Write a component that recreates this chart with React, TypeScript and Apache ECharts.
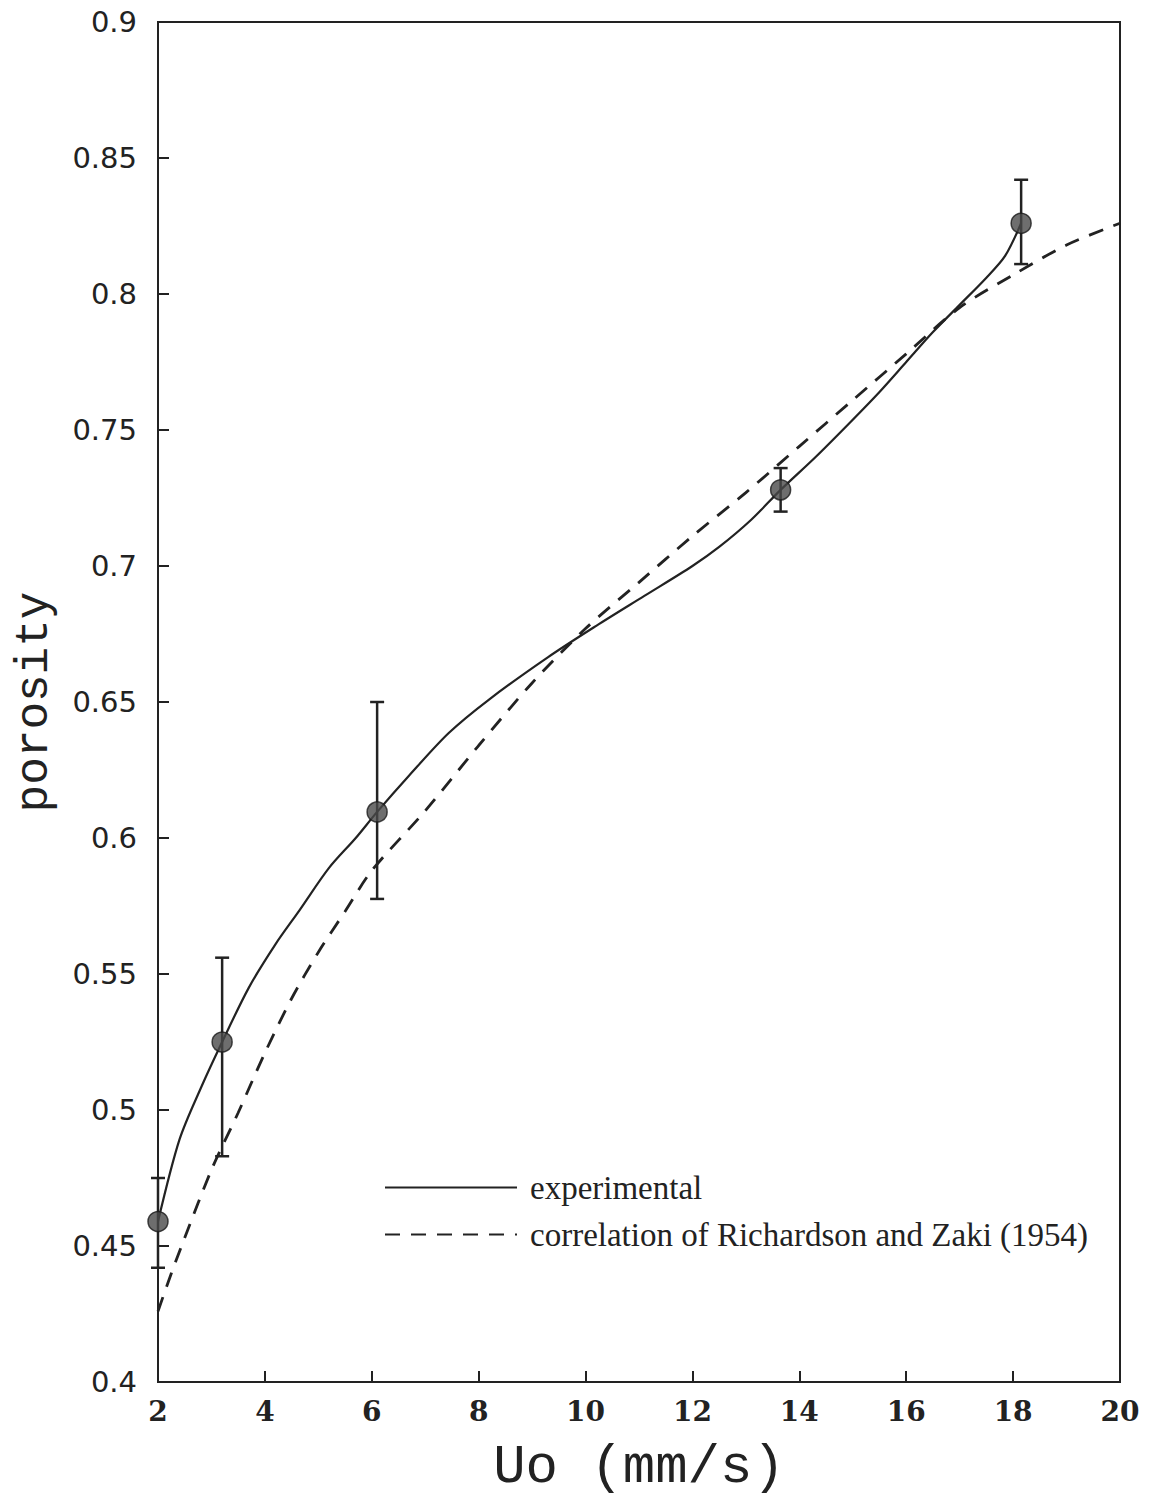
import React, { useEffect, useRef } from "react";
import * as echarts from "echarts";

// Measured data points (Uo in mm/s, porosity) with error bars
const pointX = [2.0, 3.2, 6.1, 13.65, 18.15];
const pointY = [0.459, 0.525, 0.6096, 0.728, 0.826];
const errLow = [0.442, 0.483, 0.5776, 0.72, 0.811];
const errHigh = [0.475, 0.556, 0.65, 0.736, 0.842];

// Experimental curve (solid)
const expX = [2.0, 2.4, 2.8, 3.2, 3.7, 4.2, 4.65, 5.2, 5.7, 6.1, 6.7, 7.44, 8.2, 9.3, 10.2, 11.1, 12.0, 12.5, 13.1, 13.65, 14.3, 14.94, 15.5, 16.0, 16.5, 17.0, 17.5, 17.85, 18.15];
const expY = [0.459, 0.489, 0.508, 0.525, 0.545, 0.561, 0.5735, 0.589, 0.6, 0.6096, 0.623, 0.6386, 0.651, 0.6665, 0.678, 0.689, 0.7, 0.707, 0.717, 0.728, 0.74, 0.7526, 0.764, 0.775, 0.786, 0.796, 0.806, 0.814, 0.826];

// Richardson & Zaki correlation (dashed)
const rzX = [2, 2.25, 2.5, 3, 3.5, 4, 4.5, 5, 5.5, 6, 7, 8, 9, 10, 11, 12, 13, 14, 15, 16, 17, 18, 19, 20];
const rzY = [0.426, 0.44, 0.453, 0.478, 0.499, 0.521, 0.541, 0.558, 0.573, 0.588, 0.61, 0.634, 0.657, 0.677, 0.694, 0.711, 0.727, 0.744, 0.761, 0.778, 0.795, 0.807, 0.818, 0.826];

const seriesNames = ["experimental", "correlation of Richardson and Zaki (1954)"];
const xAxisName = "Uo (mm/s)";
const yAxisName = "porosity";

export default function App() {
  const ref = useRef<HTMLDivElement>(null);

  useEffect(() => {
    document.body.style.margin = "0";
    if (!ref.current) return;
    const chart = echarts.init(ref.current, null, { renderer: "svg" });
    const ink = "#222";
    chart.setOption({
      animation: false,
      backgroundColor: "#ffffff",
      grid: {
        left: 158,
        right: 36,
        top: 22,
        bottom: 117,
        show: true,
        borderColor: ink,
        borderWidth: 2,
        backgroundColor: "transparent",
      },
      legend: {
        data: seriesNames,
        orient: "vertical",
        left: 379,
        top: 1166,
        itemWidth: 132,
        itemHeight: 14,
        itemGap: 14,
        itemStyle: { color: "transparent", borderWidth: 0, opacity: 0 },
        textStyle: { fontFamily: "Liberation Serif", fontSize: 33, color: ink, padding: [0, 0, 0, 8] },
        selectedMode: false,
      },
      xAxis: {
        type: "value",
        min: 2,
        max: 20,
        interval: 2,
        name: xAxisName,
        nameLocation: "middle",
        nameGap: 58,
        nameTextStyle: { fontFamily: "Liberation Mono", fontSize: 54, color: ink },
        axisLine: { show: true, lineStyle: { color: ink, width: 2 } },
        axisTick: { show: true, inside: true, length: 11, lineStyle: { color: ink, width: 2 } },
        axisLabel: { fontFamily: "DejaVu Serif", fontWeight: "bold", fontSize: 28, color: ink, margin: 15 },
        splitLine: { show: false },
      },
      yAxis: {
        type: "value",
        min: 0.4,
        max: 0.9,
        interval: 0.05,
        name: yAxisName,
        nameLocation: "middle",
        nameGap: 100,
        nameRotate: 90,
        nameTextStyle: { fontFamily: "Liberation Mono", fontSize: 46, color: ink },
        axisLine: { show: true, lineStyle: { color: ink, width: 2 } },
        axisTick: { show: true, inside: true, length: 11, lineStyle: { color: ink, width: 2 } },
        axisLabel: { fontFamily: "DejaVu Sans", fontSize: 29, color: ink, margin: 21 },
        splitLine: { show: false },
      },
      series: [
        {
          name: seriesNames[0],
          type: "line",
          data: expX.map((x, i) => [x, expY[i]]),
          smooth: 0.3,
          symbol: "none",
          lineStyle: { color: ink, width: 2.2, type: "solid" },
          itemStyle: { color: ink },
          z: 3,
        },
        {
          name: seriesNames[1],
          type: "line",
          data: rzX.map((x, i) => [x, rzY[i]]),
          smooth: 0.3,
          symbol: "none",
          lineStyle: { color: ink, width: 2.8, type: [15, 11] },
          itemStyle: { color: ink },
          z: 3,
        },
        {
          name: "error",
          type: "custom",
          data: pointX.map((x, i) => [x, errLow[i], errHigh[i]]),
          encode: { x: 0, y: [1, 2] },
          renderItem: (params: any, api: any) => {
            const x = api.value(0);
            const lo = api.coord([x, api.value(1)]);
            const hi = api.coord([x, api.value(2)]);
            const cap = 7;
            const st = { stroke: ink, lineWidth: 2.5 };
            return {
              type: "group",
              children: [
                { type: "line", shape: { x1: lo[0], y1: lo[1], x2: hi[0], y2: hi[1] }, style: st },
                { type: "line", shape: { x1: lo[0] - cap, y1: lo[1], x2: lo[0] + cap, y2: lo[1] }, style: st },
                { type: "line", shape: { x1: hi[0] - cap, y1: hi[1], x2: hi[0] + cap, y2: hi[1] }, style: st },
              ],
            };
          },
          z: 4,
        },
        {
          name: "points",
          type: "scatter",
          data: pointX.map((x, i) => [x, pointY[i]]),
          symbol: "circle",
          symbolSize: 20,
          itemStyle: { color: "#4a4a4a", borderColor: "#1a1a1a", borderWidth: 1.5 },
          z: 5,
        },
      ],
    });
    return () => chart.dispose();
  }, []);

  return <div ref={ref} style={{ width: 1156, height: 1499 }} />;
}
